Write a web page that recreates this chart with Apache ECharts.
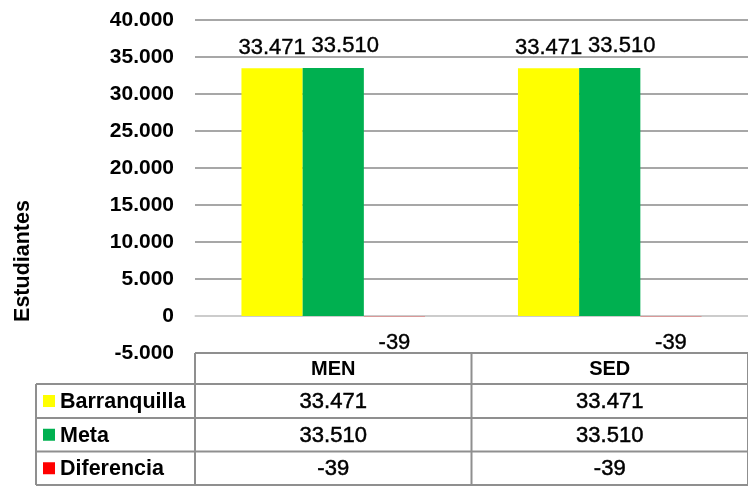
<!DOCTYPE html>
<html>
<head>
<meta charset="utf-8">
<script src="https://cdn.jsdelivr.net/npm/echarts@6/dist/echarts.min.js"></script>
<style>
    html, body { margin: 0; padding: 0; background: #fff; }
    #main { width: 748px; height: 487px; }
</style>
</head>
<body>
<div id="main"></div>
<script>
var categorias = ['MEN', 'SED'];//categorias
var series_nombres = ['Barranquilla', 'Meta', 'Diferencia'];
var barranquilla = [33471, 33471];
var meta = [33510, 33510];
var diferencia = [-39, -39];
var colores = ['#FFFF00', '#00B050', '#FF0000'];
var eje_min = -5000, eje_max = 40000, eje_intervalo = 5000;

var fuente = '"Liberation Sans", Arial, sans-serif';

//formato con punto de miles
function fmt(v) {
    var s = String(Math.abs(v)).replace(/\B(?=(\d{3})+(?!\d))/g, '.');
    return (v < 0 ? '-' : '') + s;
}

//etiqueta de las barras
function etiqueta(pos, dist, offset) {
    return {
        show: true,
        position: pos,
        distance: dist,
        offset: offset || [0, 0],
        color: '#000',
        fontFamily: fuente,
        fontSize: 22,
        textBorderColor: '#000',
        textBorderWidth: 0.4,
        formatter: function (p) { return fmt(p.value); }
    };
}

var chart = echarts.init(document.getElementById('main'));
var option = {
    animation: false,
    grid: {
        left: 195,
        top: 20,
        bottom: 134,
        width: 560
    },
    xAxis: {
        type: 'category',
        data: categorias,
        axisLine: { onZero: true, lineStyle: { color: '#d9d9d9', width: 1.5 } },
        axisTick: { show: false },
        axisLabel: { show: false }
    },
    yAxis: {
        type: 'value',
        min: eje_min,
        max: eje_max,
        interval: eje_intervalo,
        axisLine: { show: false },
        axisTick: { show: false },
        axisLabel: {
            margin: 21,
            color: '#000',
            fontFamily: fuente,
            fontWeight: 'bold',
            fontSize: 21,
            formatter: fmt
        },
        splitLine: { lineStyle: { color: '#8a8a8a', width: 1.5 } }
    },
    series: [{
        name: series_nombres[0],
        type: 'bar',
        data: barranquilla,
        barGap: '0%',
        barCategoryGap: '33.6%',
        itemStyle: { color: colores[0] },
        label: etiqueta('top', 9)
    }, {
        name: series_nombres[1],
        type: 'bar',
        data: meta,
        itemStyle: { color: colores[1] },
        label: etiqueta('top', 9, [12, -2])
    }, {
        name: series_nombres[2],
        type: 'bar',
        data: diferencia,
        itemStyle: { color: colores[2] },
        label: etiqueta('bottom', 16)
    }]
};
chart.setOption(option);

// tabla de datos debajo del grafico
var c0 = chart.convertToPixel({ xAxisIndex: 0 }, categorias[0]);
var c1 = chart.convertToPixel({ xAxisIndex: 0 }, categorias[1]);
var anchoCat = c1 - c0;
var izq = 36;
var xIni = c0 - anchoCat / 2;
var yTop = chart.convertToPixel({ yAxisIndex: 0 }, eje_min);
var filas = [yTop, yTop + 31, yTop + 65, yTop + 98.5, yTop + 132];
var valores = [barranquilla, meta, diferencia];
var borde = { stroke: '#8f8f8f', lineWidth: 2 };
var g = [];

function linea(x1, y1, x2, y2) {
    g.push({ type: 'line', shape: { x1: x1, y1: y1, x2: x2, y2: y2 }, style: borde, z: 10 });
}
function texto(t, x, y, size, bold, align) {
    g.push({
        type: 'text', x: x, y: y, z: 11,
        style: {
            text: t, fill: '#000', fontFamily: fuente, fontSize: size,
            fontWeight: bold ? 'bold' : 'normal',
            stroke: bold ? null : '#000', lineWidth: bold ? 0 : 0.5,
            align: align || 'center', verticalAlign: 'middle'
        }
    });
}

linea(xIni, filas[0], 760, filas[0]);
for (var f = 1; f < filas.length; f++) linea(izq, filas[f], 760, filas[f]);
linea(izq, filas[1], izq, filas[4]);
for (var k = 0; k <= categorias.length; k++) {
    var xb = xIni + k * anchoCat;
    linea(xb, filas[0], xb, filas[4]);
}
for (var i = 0; i < categorias.length; i++) {
    var cx = xIni + (i + 0.5) * anchoCat;
    texto(categorias[i], cx, (filas[0] + filas[1]) / 2 + 1, 20, true);
    for (var s = 0; s < valores.length; s++) {
        texto(fmt(valores[s][i]), cx, (filas[s + 1] + filas[s + 2]) / 2 + 1, 22, false);
    }
}
for (var s = 0; s < series_nombres.length; s++) {
    var cy = (filas[s + 1] + filas[s + 2]) / 2;
    g.push({ type: 'rect', shape: { x: 43, y: cy - 6, width: 12, height: 12 }, style: { fill: colores[s] }, z: 11 });
    texto(series_nombres[s], 60, cy + 1, 21.5, true, 'left');
}
// titulo del eje
g.push({
    type: 'text', x: 23, y: 261, rotation: Math.PI / 2, z: 11,
    style: {
        text: 'Estudiantes', fill: '#000', fontFamily: fuente, fontSize: 21.5,
        fontWeight: 'bold', align: 'center', verticalAlign: 'middle'
    }
});
chart.setOption({ graphic: g });
</script>
</body>
</html>
